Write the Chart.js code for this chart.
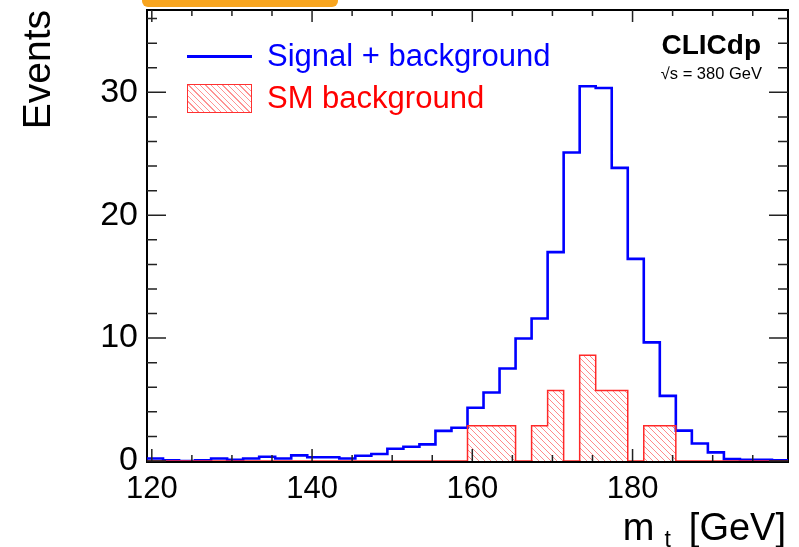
<!DOCTYPE html>
<html lang="en">
<head>
    <meta charset="UTF-8">
    <title>Top mass, CLICdp</title>
    <script src="https://cdn.jsdelivr.net/npm/chart.js"></script>
    <style>
        body { margin: 0; background: #fff; font-family: "Liberation Sans", Arial, sans-serif; }
        .wrap { position: relative; width: 799px; height: 547px; overflow: hidden; }
        #massChart { position: absolute; left: 0; top: 0; }
        .tab { position: absolute; left: 142px; top: 0; width: 196px; height: 7px; background: #f8a51f; border-radius: 0 0 6px 6px; }
        .ytitle { position: absolute; left: 18px; top: 310px; width: 300px; font-size: 39px; line-height: 38px; text-align: right; transform: rotate(-90deg); transform-origin: 0 0; }
        .xtitle { position: absolute; right: 13px; top: 508px; font-size: 38px; line-height: 38px; white-space: nowrap; }
        .xtitle sub { font-size: 23px; vertical-align: -7px; margin-left: 10px; margin-right: 18px; }
        .leg-line { position: absolute; left: 187px; top: 55px; width: 65px; height: 2.5px; background: #0000ff; }
        .leg-box { position: absolute; left: 187px; top: 84px; width: 63px; height: 27px; border: 1px solid #ff3030;
            background: repeating-linear-gradient(45deg, #fff 0 3px, rgba(255,60,60,0.55) 3px 4px); }
        .leg-text { position: absolute; left: 267px; font-size: 31px; line-height: 31px; white-space: nowrap; }
        .clic { position: absolute; right: 38px; top: 31px; font-size: 28px; line-height: 28px; font-weight: bold; }
        .energy { position: absolute; right: 37px; top: 65px; font-size: 16.5px; line-height: 16px; }
    </style>
</head>
<body>
<div class="wrap">
    <canvas id="massChart" width="799" height="547"></canvas>
    <div class="tab"></div>
    <div class="ytitle">Events</div>
    <div class="xtitle">m<sub>t</sub>[GeV]</div>
    <div class="leg-line"></div>
    <div class="leg-text" style="top: 40px; color: #0000ff;">Signal + background</div>
    <div class="leg-box"></div>
    <div class="leg-text" style="top: 82px; color: #ff0000;">SM background</div>
    <div class="clic">CLICdp</div>
    <div class="energy">√s = 380 GeV</div>
</div>
<script>
    // bin edges (GeV), 2 GeV bins
    const binEdges = [119.4, 121.4, 123.4, 125.4, 127.4, 129.4, 131.4, 133.4, 135.4, 137.4,
        139.4, 141.4, 143.4, 145.4, 147.4, 149.4, 151.4, 153.4, 155.4, 157.4,
        159.4, 161.4, 163.4, 165.4, 167.4, 169.4, 171.4, 173.4, 175.4, 177.4,
        179.4, 181.4, 183.4, 185.4, 187.4, 189.4, 191.4, 193.4, 195.4, 197.4, 199.4];

    const signalPlusBkg = [0.2, 0.05, 0, 0.05, 0.2, 0.1, 0.2, 0.35, 0.2, 0.46,
        0.3, 0.3, 0.2, 0.43, 0.57, 1.0, 1.16, 1.35, 2.45, 2.7,
        4.33, 5.58, 7.53, 9.97, 11.6, 17.0, 25.1, 30.5, 30.35, 23.85,
        16.45, 9.65, 5.3, 2.47, 1.43, 0.7, 0.15, 0.1, 0.1, 0.05];

    const smBackground = [0, 0, 0, 0, 0, 0, 0, 0, 0, 0,
        0, 0, 0, 0, 0, 0, 0, 0, 0, 0,
        2.87, 2.87, 2.87, 0, 2.87, 5.74, 0, 8.61, 5.74, 5.74,
        0, 2.87, 2.87, 0, 0, 0, 0, 0, 0, 0];

    const xTickLabels = [120, 140, 160, 180];
    const xMinorTicks = [125, 130, 135, 145, 150, 155, 165, 170, 175, 185, 190, 195];
    const yTickLabels = [0, 10, 20, 30];
    const yMinorTicks = [2, 4, 6, 8, 12, 14, 16, 18, 22, 24, 26, 28, 32, 34, 36];

    // histogram outline: value of bin i held from edge i to edge i+1
    function steps(values) {
        const pts = values.map((v, i) => ({ x: binEdges[i], y: v }));
        pts.push({ x: binEdges[values.length], y: values[values.length - 1] });
        return pts;
    }

    function hatch() {
        const c = document.createElement('canvas');
        c.width = 6; c.height = 6;
        const g = c.getContext('2d');
        g.strokeStyle = 'rgba(255,60,60,0.6)';
        g.lineWidth = 1;
        g.beginPath();
        g.moveTo(-1, -1); g.lineTo(7, 7);
        g.moveTo(-1, 5); g.lineTo(1, 7);
        g.moveTo(5, -1); g.lineTo(7, 1);
        g.stroke();
        return g.createPattern(c, 'repeat');
    }

    const frameAndTicks = {
        id: 'frameAndTicks',
        beforeDatasetsDraw(chart) {
            const { ctx, chartArea: a } = chart;
            ctx.save();
            ctx.strokeStyle = '#000';
            ctx.lineWidth = 2;
            ctx.strokeRect(a.left, a.top, a.right - a.left, a.bottom - a.top + 1);
            ctx.restore();
        },
        afterDatasetsDraw(chart) {
            const { ctx, chartArea: a, scales: { x, y } } = chart;
            ctx.save();
            ctx.strokeStyle = '#222';
            ctx.lineWidth = 1.5;
            ctx.beginPath();
            const xt = (v, len) => {
                const px = x.getPixelForValue(v);
                ctx.moveTo(px, a.bottom); ctx.lineTo(px, a.bottom - len);
                ctx.moveTo(px, a.top); ctx.lineTo(px, a.top + len);
            };
            const yt = (v, len) => {
                const py = y.getPixelForValue(v);
                ctx.moveTo(a.left, py); ctx.lineTo(a.left + len, py);
                ctx.moveTo(a.right, py); ctx.lineTo(a.right - len, py);
            };
            xTickLabels.forEach(v => xt(v, 12));
            xMinorTicks.forEach(v => xt(v, 6));
            yTickLabels.forEach(v => yt(v, 19));
            yMinorTicks.forEach(v => yt(v, 10));
            ctx.stroke();
            ctx.restore();
        }
    };

    const fontFamily = '"Liberation Sans", Arial, sans-serif';

    new Chart(document.getElementById('massChart'), {
        type: 'line',
        data: {
            datasets: [{
                label: 'SM background',
                data: steps(smBackground),
                stepped: 'before',
                borderColor: 'rgb(255,40,40)',
                borderWidth: 1.5,
                backgroundColor: hatch(),
                fill: 'origin',
                pointRadius: 0
            }, {
                label: 'Signal + background',
                data: steps(signalPlusBkg),
                stepped: 'before',
                borderColor: '#0000ff',
                borderWidth: 2.6,
                fill: false,
                pointRadius: 0
            }]
        },
        options: {
            responsive: false,
            animation: false,
            devicePixelRatio: 1,
            layout: { padding: { top: 10, right: 11, left: 0, bottom: 0 } },
            plugins: { legend: { display: false }, tooltip: { enabled: false } },
            scales: {
                x: {
                    type: 'linear',
                    min: binEdges[0],
                    max: binEdges[binEdges.length - 1],
                    afterBuildTicks: s => { s.ticks = xTickLabels.map(v => ({ value: v })); },
                    afterFit: s => { s.height = 86; s.paddingLeft = 0; s.paddingRight = 0; },
                    grid: { display: false, drawTicks: false },
                    border: { display: false },
                    ticks: { color: '#000', font: { family: fontFamily, size: 31 }, padding: 10, maxRotation: 0 }
                },
                y: {
                    min: 0,
                    max: 36.7,
                    afterBuildTicks: s => { s.ticks = yTickLabels.map(v => ({ value: v })); },
                    afterFit: s => { s.width = 147; s.paddingTop = 0; s.paddingBottom = 0; },
                    grid: { display: false, drawTicks: false },
                    border: { display: false },
                    ticks: { color: '#000', font: { family: fontFamily, size: 34 }, padding: 9 }
                }
            }
        },
        plugins: [frameAndTicks]
    });
</script>
</body>
</html>
